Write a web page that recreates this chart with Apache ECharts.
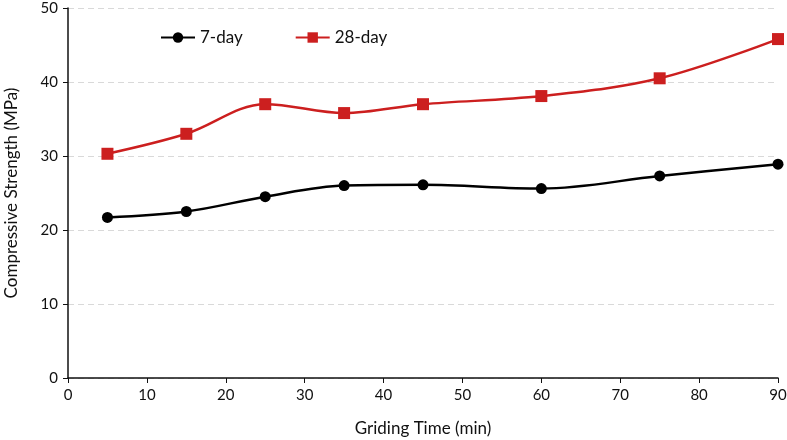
<!DOCTYPE html>
<html><head><meta charset="utf-8">
<script src="https://cdn.jsdelivr.net/npm/echarts@6/dist/echarts.min.js"></script>
<style>html,body{margin:0;padding:0;background:#fff}#c{width:787px;height:440px}</style>
</head><body><div id="c"></div>
<script>
const times = [5, 15, 25, 35, 45, 60, 75, 90];
const day7 = [21.7, 22.5, 24.5, 26.0, 26.1, 25.6, 27.3, 28.9];
const day28 = [30.3, 33.0, 37.0, 35.8, 37.0, 38.1, 40.5, 45.8];
const seriesNames = ['7-day', '28-day'];

const FONT = 'Lato';
const chart = echarts.init(document.getElementById('c'), null, {renderer: 'canvas'});
chart.setOption({
  animation: false,
  backgroundColor: '#fff',
  textStyle: {fontFamily: FONT},
  grid: {left: 68, right: 9, top: 8, bottom: 62, containLabel: false, outerBoundsMode: 'none'},
  legend: {
    top: 24, left: 155, itemGap: 52, itemWidth: 34, itemHeight: 13,
    textStyle: {fontSize: 17, color: '#111', fontFamily: FONT},
    data: seriesNames
  },
  xAxis: {
    type: 'value', min: 0, max: 90, interval: 10,
    name: 'Griding Time (min)', nameLocation: 'middle', nameGap: 42,
    nameTextStyle: {fontSize: 17, color: '#111', fontFamily: FONT},
    axisLine: {show: true, lineStyle: {color: '#111', width: 1.5}},
    axisTick: {show: true, length: 5, lineStyle: {color: '#111'}},
    axisLabel: {fontSize: 15, color: '#111', margin: 10, fontFamily: FONT},
    splitLine: {show: false}
  },
  yAxis: {
    type: 'value', min: 0, max: 50, interval: 10,
    name: 'Compressive Strength (MPa)', nameLocation: 'middle', nameGap: 48, nameRotate: 90,
    nameTextStyle: {fontSize: 17, color: '#111', fontFamily: FONT},
    axisLine: {show: true, lineStyle: {color: '#111', width: 1.5}},
    axisTick: {show: true, length: 5, inside: false, lineStyle: {color: '#111'}},
    axisLabel: {fontSize: 15, color: '#111', margin: 10, fontFamily: FONT},
    splitLine: {show: true, lineStyle: {color: '#d9d9d9', type: [6, 4], width: 1}}
  },
  series: [
    {
      name: seriesNames[0], type: 'line', smooth: 0.35,
      data: times.map((t, i) => [t, day7[i]]),
      symbol: 'circle', symbolSize: 11,
      lineStyle: {color: '#000', width: 2.5},
      itemStyle: {color: '#000'}
    },
    {
      name: seriesNames[1], type: 'line', smooth: 0.35,
      data: times.map((t, i) => [t, day28[i]]),
      symbol: 'rect', symbolSize: 12,
      lineStyle: {color: '#cc1f1f', width: 2.5},
      itemStyle: {color: '#cc1f1f'}
    }
  ]
});
</script></body></html>
